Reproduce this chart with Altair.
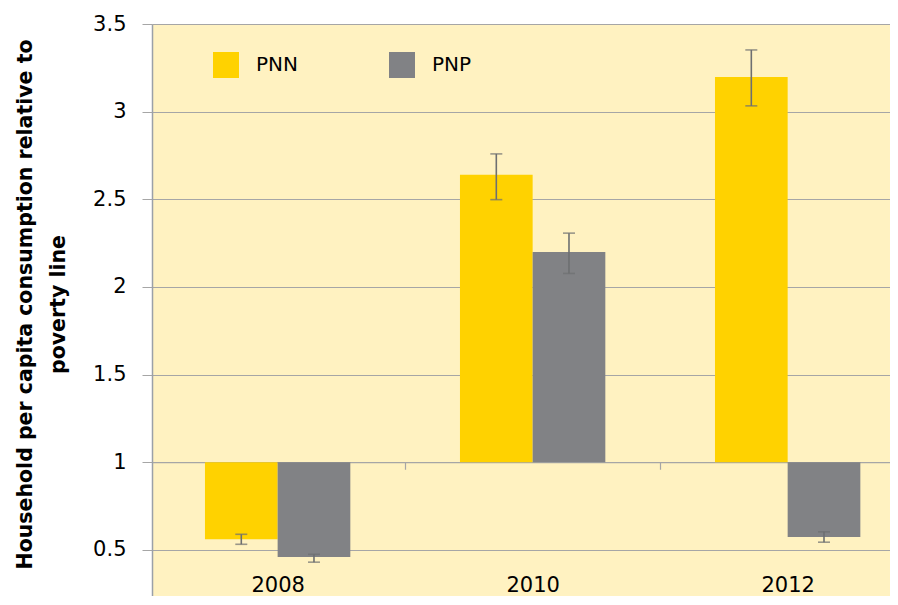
import altair as alt
import pandas as pd

years = ["2008", "2010", "2012"]
series = ["PNN", "PNP"]
pnn = [0.561, 2.64, 3.197]
pnp = [0.460, 2.199, 0.574]
pnn_lo = [0.532, 2.498, 3.033]
pnn_hi = [0.589, 2.759, 3.352]
pnp_lo = [0.430, 2.077, 0.544]
pnp_hi = [0.475, 2.307, 0.603]
baseline = 1.0
y_ticks = [0.5, 1, 1.5, 2, 2.5, 3, 3.5]
colors = ["#FFD200", "#818285"]

rows = []
for i, yr in enumerate(years):
    rows.append(dict(year=yr, series="PNN", value=pnn[i], lo=pnn_lo[i], hi=pnn_hi[i], base=baseline))
    rows.append(dict(year=yr, series="PNP", value=pnp[i], lo=pnp_lo[i], hi=pnp_hi[i], base=baseline))
df = pd.DataFrame(rows)

FONT = "DejaVu Sans"
H = 572
W = 738
ymin = 0.237
ymax = 3.5
one_px = (ymax - baseline) / (ymax - ymin) * H
p_in = 0.43
p_out = 0.162
step = W / (3 - p_in + 2 * p_out)
half_gap = p_in * step / 2
label_top = 550  # plot coordinates

xscale = alt.Scale(paddingInner=p_in, paddingOuter=p_out, align=0.641)
xaxis = alt.Axis(title=None, labelAngle=0, labelFontSize=21, labelFont=FONT, labelColor="black",
                 domainColor="#A6A6A6", domainWidth=1.2, tickColor="#A6A6A6", tickSize=7, tickWidth=1.2,
                 bandPosition=1, tickOffset=half_gap, labelOffset=-half_gap,
                 offset=one_px - H, labelPadding=label_top - one_px - 7, grid=False)
yscale = alt.Scale(domain=[ymin, ymax], nice=False, zero=False)
ytitle = ["Household  per capita consumption relative to", "poverty line"]
yaxis = alt.Axis(values=y_ticks, labelExpr="'' + datum.value", title=ytitle,
                 titleFont=FONT, titleFontSize=20.5, titleFontWeight="bold", titleColor="black",
                 titleLineHeight=33, titleX=-117, titleY=H / 2 - 6, titleAngle=270,
                 titleAlign="center", titleBaseline="bottom",
                 labelFont=FONT, labelFontSize=21, labelColor="black", labelPadding=16,
                 tickSize=10, tickColor="#A6A6A6", domainColor="#9AA0A8", domainWidth=1.5,
                 gridColor="#A6A6A6", gridWidth=1.2)
xoff = alt.XOffset("series:N", scale=alt.Scale(domain=series, paddingInner=0, paddingOuter=0))

base = alt.Chart(df)

bars = base.mark_bar().encode(
    x=alt.X("year:N", scale=xscale, axis=xaxis),
    xOffset=xoff,
    y=alt.Y("value:Q", scale=yscale, axis=yaxis),
    y2="base:Q",
    color=alt.Color("series:N", scale=alt.Scale(domain=series, range=colors),
                    legend=alt.Legend(title=None, orient="none", legendX=61, legendY=28,
                                      direction="horizontal", symbolType="square", symbolSize=676,
                                      symbolStrokeWidth=0, labelFont=FONT, labelFontSize=20,
                                      labelColor="black", labelOffset=17, columnPadding=91,
                                      padding=0)),
)

ecol = "#6D6F71"
rule = base.mark_rule(color=ecol, strokeWidth=1.6).encode(
    x=alt.X("year:N", scale=xscale, axis=xaxis),
    xOffset=xoff,
    y=alt.Y("lo:Q", scale=yscale, axis=yaxis),
    y2="hi:Q",
)
cap_lo = base.mark_tick(color=ecol, thickness=1.6, size=12, orient="horizontal").encode(
    x=alt.X("year:N", scale=xscale, axis=xaxis),
    xOffset=xoff,
    y=alt.Y("lo:Q", scale=yscale, axis=yaxis),
)
cap_hi = base.mark_tick(color=ecol, thickness=1.6, size=12, orient="horizontal").encode(
    x=alt.X("year:N", scale=xscale, axis=xaxis),
    xOffset=xoff,
    y=alt.Y("hi:Q", scale=yscale, axis=yaxis),
)

chart = alt.layer(bars, rule, cap_lo, cap_hi).properties(
    width=W, height=H,
    autosize=alt.AutoSizeParams(type="none"),
    padding={"left": 144, "top": 16, "right": 0, "bottom": 0},
    background="white",
).configure_view(fill="#FFF2C1", strokeWidth=0)

chart.save("out.html", embed_options={"renderer": "svg", "actions": False})
